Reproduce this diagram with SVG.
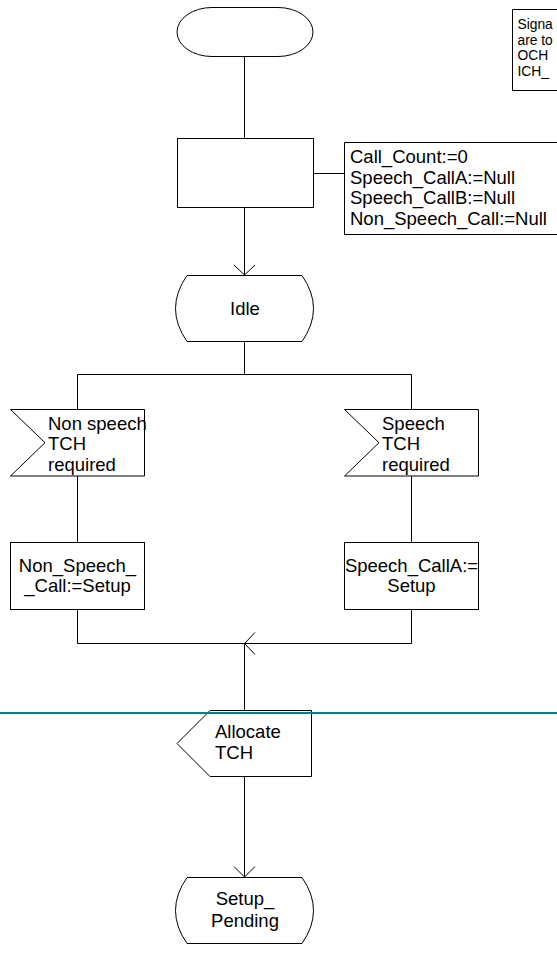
<svg xmlns="http://www.w3.org/2000/svg" width="557" height="954" viewBox="0 0 557 954">
<style>
.s{fill:#fff;stroke:#000;stroke-width:1}
.l{fill:none;stroke:#000;stroke-width:1}
.t{font-family:"Liberation Sans",Arial,sans-serif;font-size:18.5px;fill:#000}
.m{text-anchor:middle}
.n{font-family:"Liberation Sans",Arial,sans-serif;font-size:13.8px;fill:#000}
</style>
<rect width="557" height="954" fill="#fff"/>
<g id="connectors">
<path class="l" d="M244.5,56 V138"/>
<path class="l" d="M244.5,207 V275 M234,265 L244.5,275 L255,265"/>
<path class="l" d="M313,173.5 H344"/>
<path class="l" d="M244.5,341 V374.5 M77.5,409 V374.5 H411.5 V409"/>
<path class="l" d="M77.5,476 V542 M411.5,476 V542"/>
<path class="l" d="M77.5,609 V643.5 H411.5 V609 M255,632.5 L244.5,643.5 L255,654.5"/>
<path class="l" d="M244.5,643.5 V710"/>
<path class="l" d="M244.5,776 V877 M234,866.5 L244.5,877 L255,866.5"/>
</g>
<g id="note">
<path class="l" d="M560,9.5 H512.5 V90.5 H560"/>
<text class="n" x="517.5" y="29">Signa</text>
<text class="n" x="517.5" y="44.7">are to</text>
<text class="n" x="517.5" y="60.4">OCH</text>
<text class="n" x="517.5" y="76.1">ICH_</text>
</g>
<g id="start">
<path class="s" d="M212,7.5 H278 A35,24.5 0 0 1 278,56.5 H212 A35,24.5 0 0 1 212,7.5 Z"/>
</g>
<g id="init">
<rect class="s" x="177.5" y="138.5" width="136" height="69"/>
</g>
<g id="init_comment">
<path class="l" d="M560,142.5 H344.5 V234.5 H560"/>
<text class="t" x="350" y="163">Call_Count:=0</text>
<text class="t" x="350" y="183.5">Speech_CallA:=Null</text>
<text class="t" x="350" y="204">Speech_CallB:=Null</text>
<text class="t" x="350" y="224.5">Non_Speech_Call:=Null</text>
</g>
<g id="idle">
<path class="s" d="M187,275.5 H302 Q325,308.5 302,341.5 H187 Q164,308.5 187,275.5 Z"/>
<text class="t m" x="245" y="315">Idle</text>
</g>
<g id="in_nonspeech">
<path class="s" d="M10.5,409.5 H144.5 V476 H10.5 L45,442.7 Z"/>
<text class="t" x="48" y="429.5">Non speech</text>
<text class="t" x="48" y="450">TCH</text>
<text class="t" x="48" y="470.5">required</text>
</g>
<g id="in_speech">
<path class="s" d="M344.5,409.5 H478.5 V476 H344.5 L379,442.7 Z"/>
<text class="t" x="382" y="429.5">Speech</text>
<text class="t" x="382" y="450">TCH</text>
<text class="t" x="382" y="470.5">required</text>
</g>
<g id="task_nonspeech">
<rect class="s" x="10.5" y="542.5" width="134" height="67"/>
<text class="t m" x="77.5" y="572">Non_Speech_</text>
<text class="t m" x="77.5" y="592">_Call:=Setup</text>
</g>
<g id="task_speech">
<rect class="s" x="344.5" y="542.5" width="134" height="67"/>
<text class="t m" x="411.5" y="572">Speech_CallA:=</text>
<text class="t m" x="411.5" y="592">Setup</text>
</g>
<g id="out_allocate">
<path class="s" d="M210,710.5 H311.5 V776.5 H210 L177,743.5 Z"/>
<text class="t" x="215" y="738">Allocate</text>
<text class="t" x="215" y="759">TCH</text>
</g>
<g id="setup_pending">
<path class="s" d="M187,877.5 H302 Q325,910.5 302,943.5 H187 Q164,910.5 187,877.5 Z"/>
<text class="t m" x="245" y="905">Setup_</text>
<text class="t m" x="245" y="927">Pending</text>
</g>
<g id="page_break">
<line x1="0" y1="713" x2="557" y2="713" stroke="#008080" stroke-width="2"/>
</g>
</svg>
